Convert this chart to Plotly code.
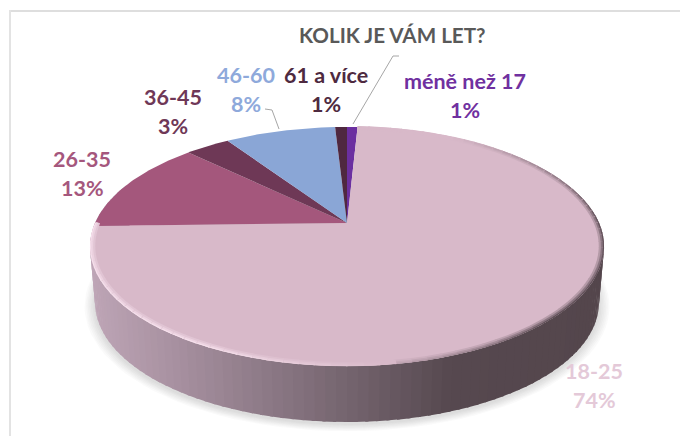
import numpy as np
import plotly.graph_objects as go

# ---- data (percent shares, clockwise from 12 o'clock)
categories = ["méně než 17", "18-25", "26-35", "36-45", "46-60", "61 a více"]
values = [0.8, 73.8, 12.7, 3.4, 8.4, 0.9]
colors = ["#6B2FA0", "#D8B9C9", "#A4577C", "#6E3856", "#8AA6D6", "#4F2840"]
label_colors = ["#7030A0", "#E4C9D8", "#A5577D", "#6F3857", "#8EA9DB", "#4E2A40"]
title_text = "KOLIK JE VÁM LET?"

# ---- style / view
CX, CY = 347.0, 223.0
RX, A, B = 252.0, 114.9, 0.1967
DEPTH, RX_BOTTOM = 56.0, 247.0
label_xy = [(465, 80.5), (594, 370.5), (82, 158.5), (173, 96.5), (246, 74.5), (326, 74.5)]
FONT = "Lato, Carlito, sans-serif"


def proj(t_deg, r=1.0, dz=0.0, rx=RX):
    t = np.radians(t_deg)
    X, Y = r * np.sin(t), r * np.cos(t)
    w = 1 + B * Y
    return CX + rx * X / w, CY - A * Y / w + dz


def mix(c1, c2, f):
    return tuple(c1[i] + (c2[i] - c1[i]) * f for i in range(3))


def css(c, a=None):
    r, g, b = [int(round(v)) for v in c]
    return f"rgb({r},{g},{b})" if a is None else f"rgba({r},{g},{b},{a})"


fig = go.Figure()


def poly(x, y, fill):
    fig.add_trace(go.Scatter(x=list(x), y=list(y), mode="lines", fill="toself",
                             fillcolor=fill, line=dict(width=0), hoverinfo="skip", showlegend=False))


# soft drop shadow
ts = np.arange(0, 361, 3.0)
for k in range(7):
    x, y = proj(ts, r=1.04 - 0.006 * k, dz=DEPTH + 2, rx=RX_BOTTOM)
    poly(x, y, "rgba(120,120,120,0.035)")

# side wall with a horizontal gradient
grad_x = [92, 200, 347, 450, 600]
grad_c = [(190, 165, 182), (160, 138, 153), (116, 100, 110), (86, 72, 79), (84, 70, 76)]
step = 2.0
for t0 in np.arange(70, 290, step):
    tt = np.array([t0, t0 + step + 0.6])
    xa, ya = proj(tt)
    xb, yb = proj(tt[::-1], dz=DEPTH, rx=RX_BOTTOM)
    xm = (xa.mean() + xb.mean()) / 2
    c = [np.interp(xm, grad_x, [g[i] for g in grad_c]) for i in range(3)]
    poly(np.r_[xa, xb], np.r_[ya, yb], css(c))

# top face: one sector per value
edges = np.r_[0, np.cumsum(values)] * 3.6
for i in range(len(values)):
    tt = np.linspace(edges[i], edges[i + 1], max(3, int(values[i] * 4)))
    x, y = proj(tt)
    poly(np.r_[CX, x], np.r_[CY, y], colors[i])

# bevel along the rim of the large slice
face = (216, 185, 201)
light = (246, 224, 236)
dark = (96, 80, 88)
seg = 3.0
for t0 in np.arange(edges[1], edges[2], seg):
    tm = t0 + seg / 2
    tt = np.array([t0, t0 + seg + 0.3])
    if tm < 170:
        s = np.clip((tm - 30) / 60, 0, 1) * np.clip((178 - tm) / 40, 0, 1)
        target = dark
    else:
        s = np.clip((tm - 172) / 35, 0, 1)
        target = light
    for r, w, f in [(0.988, 4, 0.3), (0.993, 2.5, 0.65), (0.998, 1.2, 1.0)]:
        x, y = proj(tt, r=r)
        fig.add_trace(go.Scatter(x=x, y=y, mode="lines", hoverinfo="skip", showlegend=False,
                                 line=dict(color=css(mix(face, target, s * f)), width=w)))

# leader lines
leaders = [([353, 393, 399], [124, 56, 56]), ([279, 272, 265], [129, 110, 109])]
for lx, ly in leaders:
    fig.add_trace(go.Scatter(x=lx, y=ly, mode="lines", hoverinfo="skip", showlegend=False,
                             line=dict(color="#A6A6A6", width=1)))

annotations = [dict(x=392, y=35, text=f"<b>{title_text}</b>", showarrow=False,
                    font=dict(family=FONT, size=20.6, color="#595959"))]
for name, v, col, (lx, ly) in zip(categories, values, label_colors, label_xy):
    annotations.append(dict(x=lx, y=ly, text=f"<b>{name}</b>", showarrow=False,
                            font=dict(family=FONT, size=21.5, color=col)))
    annotations.append(dict(x=lx, y=ly + 29, text=f"<b>{round(v)}%</b>", showarrow=False,
                            font=dict(family=FONT, size=21.5, color=col)))

fig.update_layout(
    width=680, height=436, margin=dict(l=0, r=0, t=0, b=0),
    paper_bgcolor="white", plot_bgcolor="white", showlegend=False,
    xaxis=dict(range=[0, 680], visible=False, fixedrange=True),
    yaxis=dict(range=[436, 0], visible=False, fixedrange=True),
    annotations=annotations,
    shapes=[dict(type="line", xref="x", yref="y", x0=9, x1=680, y0=11, y1=11,
                 line=dict(color="#DEDEDE", width=2), layer="below"),
            dict(type="line", xref="x", yref="y", x0=10, x1=10, y0=10, y1=436,
                 line=dict(color="#E3E3E3", width=2), layer="below")],
)
fig.write_html("out.html", config={"displayModeBar": False},
               post_script="document.body.style.margin='0';document.documentElement.style.overflow='hidden';")
